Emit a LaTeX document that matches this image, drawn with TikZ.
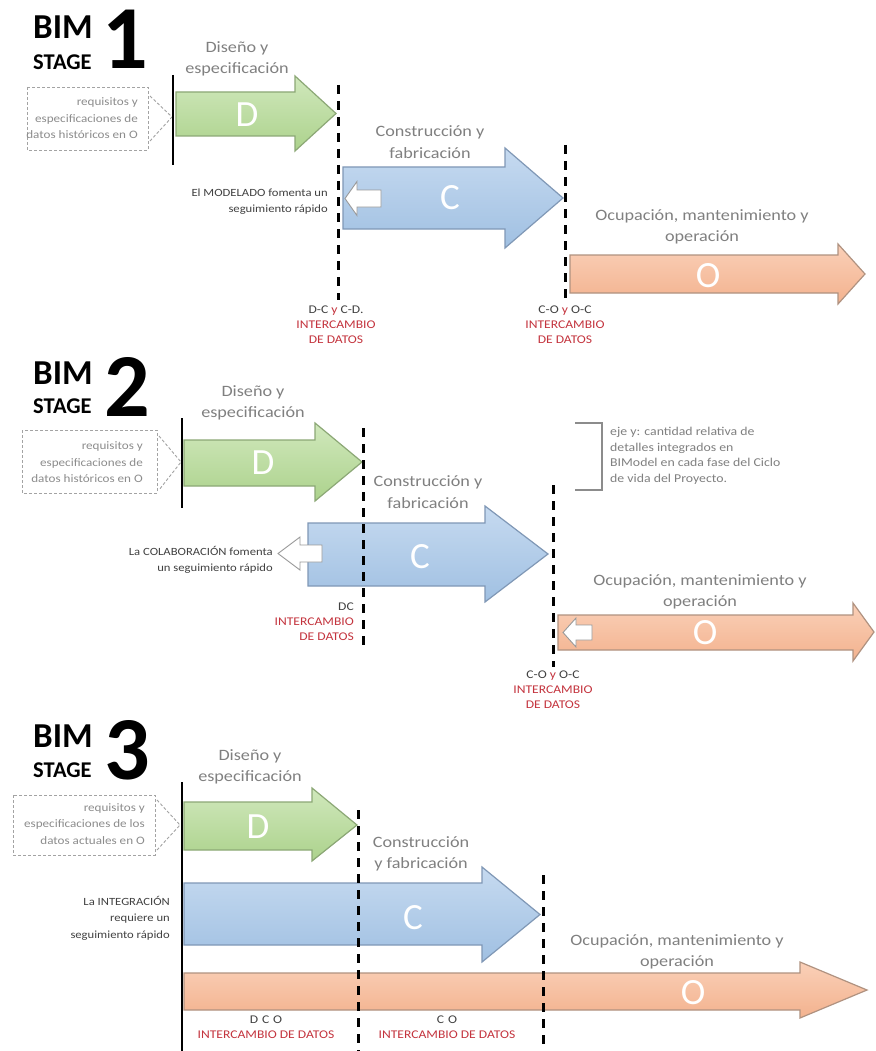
\documentclass[tikz,border=0pt]{standalone}
\usepackage{fontspec}
\setmainfont{Carlito}
\newfontfamily\wf{Carlito}[FakeStretch=1.15]
\definecolor{hgray}{RGB}{128,128,128}
\definecolor{ngray}{RGB}{65,65,65}
\definecolor{lgray}{RGB}{140,140,140}
\definecolor{xred}{RGB}{196,52,62}
\definecolor{gfill}{RGB}{172,210,140}
\definecolor{gtop}{RGB}{208,232,188}
\definecolor{gline}{RGB}{140,168,118}
\definecolor{bfill}{RGB}{160,192,226}
\definecolor{btop}{RGB}{198,218,240}
\definecolor{bline}{RGB}{128,152,182}
\definecolor{ofill}{RGB}{243,178,142}
\definecolor{otop}{RGB}{250,208,184}
\definecolor{oline}{RGB}{176,146,128}
\newcommand{\fatarrow}[9]{%
  \path[#1] (#2,#5) -- (#3,#5) -- (#3,#7) -- (#4,#9) -- (#3,#8) -- (#3,#6) -- (#2,#6) -- cycle;}
\newcommand{\backarrow}[6]{%
  \path[warr] (#1,#4) -- (#2,{#4-#5}) -- (#2,{#4-#6}) -- (#3,{#4-#6}) -- (#3,{#4+#6}) -- (#2,{#4+#6}) -- (#2,{#4+#5}) -- cycle;}
\tikzset{
  greenarr/.style={top color=gtop, bottom color=gfill, draw=gline, line width=1.2pt, line join=miter},
  bluearr/.style={top color=btop, bottom color=bfill, draw=bline, line width=1.2pt, line join=miter},
  orangearr/.style={top color=otop, bottom color=ofill, draw=oline, line width=1.2pt, line join=miter},
  warr/.style={fill=white, draw=gray!80, line width=0.9pt, line join=miter},
  phase/.style={font=\wf\fontsize{15.8}{21.5}\selectfont, text=hgray, align=center, inner sep=0pt},
  note/.style={font=\wf\fontsize{11}{16.5}\selectfont, text=ngray, align=right, inner sep=0pt, anchor=east},
  req/.style={font=\wf\fontsize{11.4}{16.5}\selectfont, text=lgray, align=right, inner sep=0pt, anchor=east},
  xlbl/.style={font=\wf\fontsize{11.8}{15}\selectfont, text=ngray, align=center, inner sep=0pt},
  letter/.style={font=\fontsize{37}{37}\selectfont, text=white, inner sep=0pt},
  bim/.style={font=\bfseries\fontsize{35}{35}\selectfont, anchor=west, inner sep=0pt},
  stg/.style={font=\bfseries\fontsize{22.5}{22.5}\selectfont, anchor=west, inner sep=0pt},
  num/.style={font=\bfseries\fontsize{90}{90}\selectfont, inner sep=0pt},
  xdash/.style={line width=3pt, dash pattern=on 9pt off 7pt},
  reqbox/.style={draw=lgray!80, line width=0.9pt, dash pattern=on 3pt off 2pt},
  chev/.style={draw=lgray!80, line width=0.9pt, dash pattern=on 3pt off 2pt},
  startline/.style={line width=2.2pt},
  bracket/.style={draw=gray!90, line width=1.4pt}
}
\begin{document}
\begin{tikzpicture}[x=1pt,y=-1pt]
\useasboundingbox[fill=white] (0,0) rectangle (875,1051);

% ================= STAGE 1 =================
\node[bim] (s1bim) at (33,27) {BIM};
\node[stg] (s1stage) at (33,62) {STAGE};
\node[num] (s1num) at (125,39) {1};
\node[phase] (s1dis) at (237,59) {Diseño y\\especificación};
\node[phase] (s1con) at (430,142) {Construcción y\\fabricación};
\node[phase] (s1ocu) at (702,227) {Ocupación, mantenimiento y\\operación};

\draw[reqbox] (27,87) rectangle (148,150);
\node[req] (s1req) at (138,118.5) {requisitos y\\especificaciones de\\datos históricos en O};
\draw[chev] (150,96) -- (172,117) -- (150,141);
\draw[startline] (173,75) -- (173,165);

\fatarrow{greenarr}{176}{295}{336}{92}{136}{76}{151}{113.5}
\fatarrow{bluearr}{343}{505}{563}{167}{229}{148}{248}{198}
\fatarrow{orangearr}{570}{838}{865}{255}{293}{244}{304}{274}

\draw[xdash] (338,85) -- (338,300);
\draw[xdash] (565,145) -- (565,298);

\backarrow{345}{357}{381}{198.5}{17}{8.5}
\node[letter] (s1D) at (247,115) {D};
\node[letter] (s1C) at (450,198) {C};
\node[letter] (s1O) at (708,276) {O};

\node[note] (s1note) at (328,201.5) {El MODELADO fomenta un\\seguimiento rápido};
\node[xlbl] (s1x1) at (336,325) {D-C {\color{xred}y} C-D.\\{\color{xred}INTERCAMBIO}\\{\color{xred}DE DATOS}};
\node[xlbl] (s1x2) at (565,325) {C-O {\color{xred}y} O-C\\{\color{xred}INTERCAMBIO}\\{\color{xred}DE DATOS}};

% ================= STAGE 2 =================
\node[bim] (s2bim) at (33,373) {BIM};
\node[stg] (s2stage) at (33,406) {STAGE};
\node[num] (s2num) at (127,387) {2};
\node[phase] (s2dis) at (253,403) {Diseño y\\especificación};
\node[phase] (s2con) at (428,492) {Construcción y\\fabricación};
\node[phase] (s2ocu) at (700,592) {Ocupación, mantenimiento y\\operación};

\draw[reqbox] (22,430) rectangle (157,493);
\node[req] (s2req) at (143,462.5) {requisitos y\\especificaciones de\\datos históricos en O};
\draw[chev] (159,436) -- (181,462) -- (159,490);
\draw[startline] (182,418) -- (182,508);

\fatarrow{greenarr}{184}{315}{362}{440}{486}{423}{501}{462}
\fatarrow{bluearr}{308}{485}{548}{523}{586}{506}{602}{554}
\fatarrow{orangearr}{558}{853}{874}{615}{650}{603}{661}{632}

\draw[xdash] (363,428) -- (363,647);
\draw[xdash] (553,485) -- (553,667);

\backarrow{278}{300}{322}{553.5}{16.5}{8.5}
\backarrow{563}{576}{592}{632.5}{14.5}{7.5}
\node[letter] (s2D) at (263,463) {D};
\node[letter] (s2C) at (420,557) {C};
\node[letter] (s2O) at (705,633) {O};

\node[note] (s2note) at (273,560) {La COLABORACIÓN fomenta\\un seguimiento rápido};
\node[xlbl, align=right, anchor=east] (s2x1) at (354,622) {DC\\{\color{xred}INTERCAMBIO}\\{\color{xred}DE DATOS}};
\node[xlbl] (s2x2) at (553,690) {C-O {\color{xred}y} O-C\\{\color{xred}INTERCAMBIO}\\{\color{xred}DE DATOS}};

\draw[bracket] (575,423) -- (602,423) -- (602,490) -- (575,490);
\node[font=\wf\fontsize{12}{15.5}\selectfont, text=hgray, align=left, anchor=west, inner sep=0pt] (s2axis) at (610,456)
  {eje y: cantidad relativa de\\detalles integrados en\\BIModel en cada fase del Ciclo\\de vida del Proyecto.};

% ================= STAGE 3 =================
\node[bim] (s3bim) at (33,736) {BIM};
\node[stg] (s3stage) at (33,770) {STAGE};
\node[num] (s3num) at (127,750) {3};
\node[phase] (s3dis) at (250,767) {Diseño y\\especificación};
\node[phase] (s3con) at (421,854) {Construcción\\y fabricación};
\node[phase] (s3ocu) at (677,952) {Ocupación, mantenimiento y\\operación};

\draw[reqbox] (13,795) rectangle (155,855);
\node[req] (s3req) at (145,824) {requisitos y\\especificaciones de los\\datos actuales en O};
\draw[chev] (157,800) -- (180,825) -- (157,850);
\draw[startline] (182,782) -- (182,1051);

\fatarrow{greenarr}{184}{312}{357}{802}{850}{788}{861}{825}
\fatarrow{bluearr}{184}{482}{540}{883}{945}{867}{962}{914.5}
\fatarrow{orangearr}{184}{800}{867}{973}{1010}{962}{1018}{990}

\draw[xdash] (358,810) -- (358,1051);
\draw[xdash] (543,875) -- (543,1051);

\node[letter] (s3D) at (258,827) {D};
\node[letter] (s3C) at (413,918) {C};
\node[letter] (s3O) at (693,993) {O};

\node[note] (s3note) at (170,918) {La INTEGRACIÓN\\requiere un\\seguimiento rápido};
\node[xlbl] (s3x1) at (266,1027.5) {D\,\,C\,\,O\\{\color{xred}INTERCAMBIO DE DATOS}};
\node[xlbl] (s3x2) at (447,1027.5) {C\,\,O\\{\color{xred}INTERCAMBIO DE DATOS}};
\end{tikzpicture}
\end{document}
